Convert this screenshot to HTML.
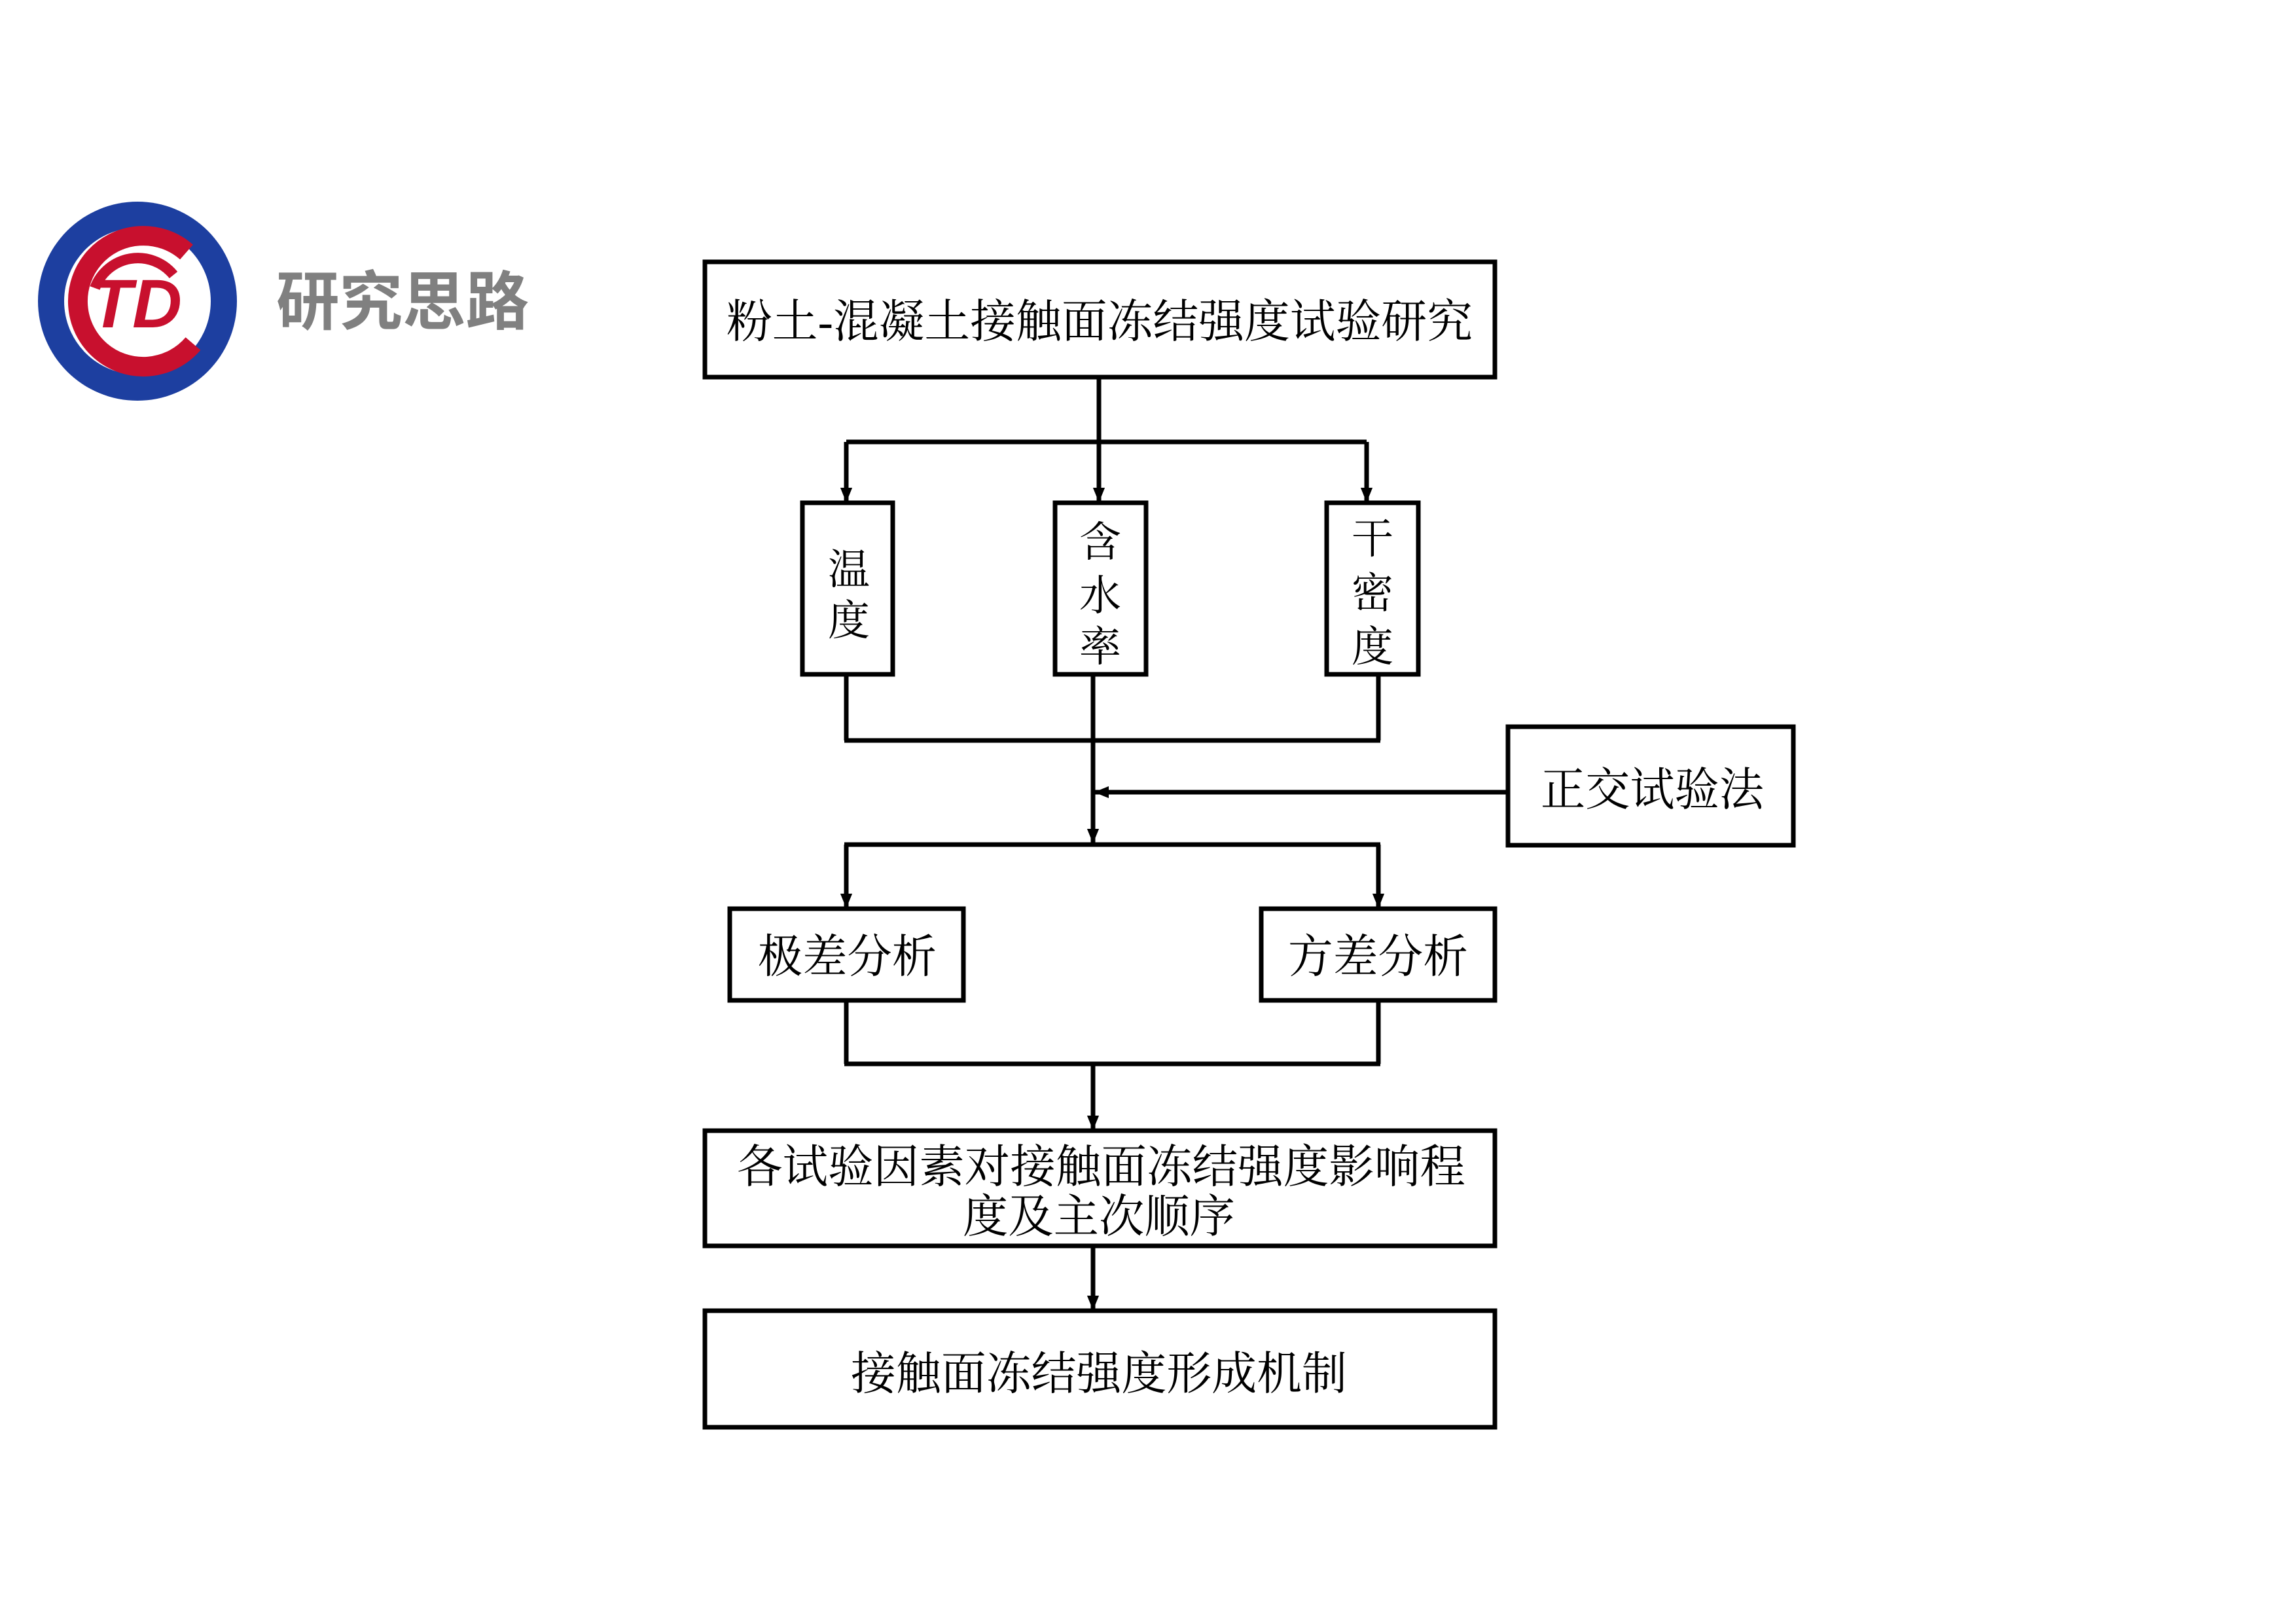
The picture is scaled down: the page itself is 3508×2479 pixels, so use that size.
<!DOCTYPE html>
<html><head><meta charset="utf-8"><style>
html,body{margin:0;padding:0;background:#fff;}
svg{display:block;}
.t{font-family:"Liberation Serif","Noto Serif CJK SC",serif;fill:#000;}
</style></head><body>
<svg width="3508" height="2479" viewBox="0 0 3508 2479" xmlns="http://www.w3.org/2000/svg">
<defs>
<marker id="a" markerWidth="3.2" markerHeight="2.6" refX="3" refY="1.3" orient="auto" markerUnits="strokeWidth">
<path d="M0,0 L3.2,1.3 L0,2.6 z" fill="#000"/></marker>
</defs>
<rect width="3508" height="2479" fill="#fff"/>
<!-- logo -->
<g>
<ellipse cx="210" cy="460" rx="152" ry="152" fill="#1d3fa0"/>
<ellipse cx="210" cy="460" rx="112" ry="112" fill="#fff"/>
<path d="M285,385 A100,100 0 1 0 295,525" fill="none" stroke="#c8102e" stroke-width="30"/>
<path d="M265,420 A70,70 0 0 0 145,440" fill="none" stroke="#c8102e" stroke-width="16"/>
<text x="208" y="500" font-family="Liberation Sans,sans-serif" font-weight="bold" font-style="italic" font-size="105" fill="#c8102e" text-anchor="middle">TD</text>
</g>
<text x="422" y="495" font-family="Liberation Sans,'Noto Sans CJK SC',sans-serif" font-weight="bold" font-size="98" fill="#808080" textLength="386" lengthAdjust="spacingAndGlyphs">研究思路</text>

<g fill="none" stroke="#000" stroke-width="7">
<rect x="1077" y="400" width="1207" height="176"/>
<rect x="1226" y="768" width="138" height="262"/>
<rect x="1612" y="768" width="139" height="262"/>
<rect x="2027" y="768" width="140" height="262"/>
<rect x="2304" y="1110" width="436" height="181"/>
<rect x="1115" y="1388" width="357" height="140"/>
<rect x="1927" y="1388" width="357" height="140"/>
<rect x="1077" y="1727" width="1207" height="176"/>
<rect x="1077" y="2002" width="1207" height="178"/>
</g>
<g fill="none" stroke="#000" stroke-width="7">
<line x1="1679" y1="576" x2="1679" y2="675"/>
<line x1="1293" y1="675" x2="2088" y2="675"/>
<line x1="1293" y1="675" x2="1293" y2="766" marker-end="url(#a)"/>
<line x1="1679" y1="675" x2="1679" y2="766" marker-end="url(#a)"/>
<line x1="2088" y1="675" x2="2088" y2="766" marker-end="url(#a)"/>
<line x1="1293" y1="1030" x2="1293" y2="1131"/>
<line x1="2106" y1="1030" x2="2106" y2="1131"/>
<line x1="1290" y1="1131" x2="2109" y2="1131"/>
<line x1="1670" y1="1030" x2="1670" y2="1287" marker-end="url(#a)"/>
<line x1="2304" y1="1210" x2="1673" y2="1210" marker-end="url(#a)"/>
<line x1="1290" y1="1290" x2="2109" y2="1290"/>
<line x1="1293" y1="1290" x2="1293" y2="1386" marker-end="url(#a)"/>
<line x1="2106" y1="1290" x2="2106" y2="1386" marker-end="url(#a)"/>
<line x1="1293" y1="1528" x2="1293" y2="1625"/>
<line x1="2106" y1="1528" x2="2106" y2="1625"/>
<line x1="1290" y1="1625" x2="2109" y2="1625"/>
<line x1="1670" y1="1625" x2="1670" y2="1725" marker-end="url(#a)"/>
<line x1="1670" y1="1903" x2="1670" y2="2000" marker-end="url(#a)"/>
</g>
<g class="t" font-size="70">
<text x="1110" y="515" textLength="1140" lengthAdjust="spacingAndGlyphs">粉土-混凝土接触面冻结强度试验研究</text>
<text x="1158" y="1485" textLength="273" lengthAdjust="spacingAndGlyphs">极差分析</text>
<text x="1968" y="1485" textLength="275" lengthAdjust="spacingAndGlyphs">方差分析</text>
<text x="2354" y="1230" textLength="341" lengthAdjust="spacingAndGlyphs">正交试验法</text>
<text x="1126" y="1806" textLength="1113" lengthAdjust="spacingAndGlyphs">各试验因素对接触面冻结强度影响程</text>
<text x="1471" y="1882" textLength="416" lengthAdjust="spacingAndGlyphs">度及主次顺序</text>
<text x="1300" y="2122" textLength="758" lengthAdjust="spacingAndGlyphs">接触面冻结强度形成机制</text>
</g>
<g class="t" font-size="64" text-anchor="middle">
<text x="1297" y="892">温</text>
<text x="1297" y="970">度</text>
<text x="1681" y="850">含</text>
<text x="1681" y="932">水</text>
<text x="1681" y="1010">率</text>
<text x="2097" y="845">干</text>
<text x="2097" y="928">密</text>
<text x="2097" y="1010">度</text>
</g>
</svg>
</body></html>
